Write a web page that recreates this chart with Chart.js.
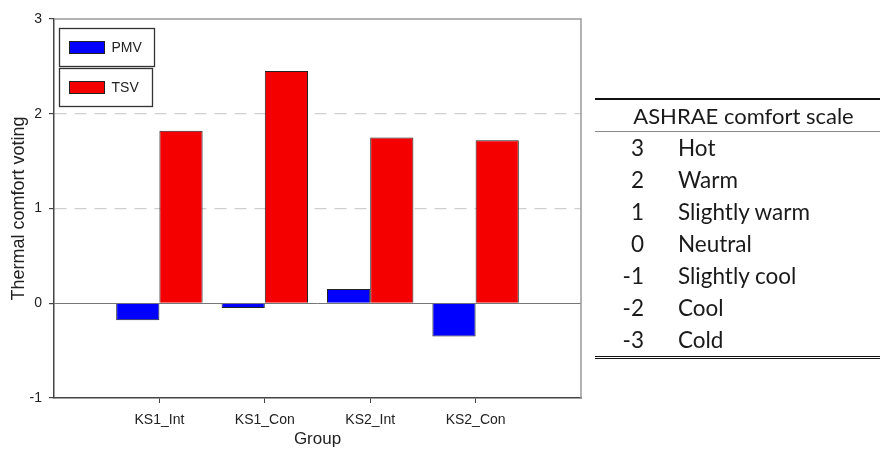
<!DOCTYPE html>
<html>
<head>
<meta charset="utf-8">
<script src="https://cdn.jsdelivr.net/npm/chart.js@4.4.0/dist/chart.umd.min.js"></script>
<style>
    body { margin: 0; background: #fff; }
    #wrap { position: relative; width: 880px; height: 450px; overflow: hidden; }
    #myChart { position: absolute; left: 0; top: 0; }
    #scaleTable {
        position: absolute; left: 595px; top: 98px; width: 285px;
        border-collapse: collapse;
        border-top: 2px solid #111; border-bottom: 3px double #111;
        font-family: Lato, "Open Sans", sans-serif; font-size: 22.5px; color: #1a1a1a;
    }
    #scaleTable th {
        font-weight: normal; font-size: 22px; height: 31px; line-height: 31px; padding: 0 0 0 12px;
        border-bottom: 1px solid #888; text-align: center;
    }
    #scaleTable td { height: 32px; line-height: 32px; padding: 0; }
    #scaleTable td.num { width: 49px; text-align: right; }
    #scaleTable td.lbl { padding-left: 34px; text-align: left; }
</style>
</head>
<body>
<div id="wrap">
    <canvas id="myChart" width="880" height="450"></canvas>
    <table id="scaleTable">
        <thead><tr><th colspan="2">ASHRAE comfort scale</th></tr></thead>
        <tbody id="scaleBody"></tbody>
    </table>
</div>
<script>
// chart data
const groups = ['KS1_Int', 'KS1_Con', 'KS2_Int', 'KS2_Con'];
const pmv = [-0.18, -0.05, 0.15, -0.35];
const tsv = [1.82, 2.45, 1.75, 1.72];
const yMin = -1;
const yMax = 3;

// ASHRAE scale table
const comfortValues = ['3', '2', '1', '0', '-1', '-2', '-3'];
const comfortLabels = ['Hot', 'Warm', 'Slightly warm', 'Neutral', 'Slightly cool', 'Cool', 'Cold'];

const tbody = document.getElementById('scaleBody');
comfortValues.forEach((v, i) => {
    const tr = document.createElement('tr');
    tr.innerHTML = '<td class="num">' + v + '</td><td class="lbl">' + comfortLabels[i] + '</td>';
    tbody.appendChild(tr);
});

// blank slots on each side so the groups sit like in the original plot
const labels = [''].concat(groups, ['']);
const pad = arr => [null].concat(arr, [null]);

const FONT = '"Liberation Sans", Arial, sans-serif';

// zero line + top/right frame
const framePlugin = {
    id: 'frame',
    beforeDatasetsDraw(chart) {
        const { ctx, chartArea: a, scales: { y } } = chart;
        const y0 = Math.round(y.getPixelForValue(0)) + 0.5;
        ctx.save();
        ctx.strokeStyle = '#777';
        ctx.lineWidth = 1;
        ctx.beginPath();
        ctx.moveTo(a.left, y0);
        ctx.lineTo(a.right, y0);
        ctx.stroke();
        ctx.restore();
    },
    afterDraw(chart) {
        const { ctx, chartArea: a } = chart;
        ctx.save();
        ctx.strokeStyle = '#999';
        ctx.lineWidth = 1.5;
        ctx.beginPath();
        ctx.moveTo(a.left, a.top);
        ctx.lineTo(a.right, a.top);
        ctx.lineTo(a.right, a.bottom);
        ctx.stroke();
        ctx.restore();
    }
};

// boxed legend entries, one box per series
const boxLegend = {
    id: 'boxLegend',
    afterDraw(chart) {
        const { ctx, chartArea: a } = chart;
        const widths = [95, 93];
        ctx.save();
        chart.data.datasets.forEach((ds, i) => {
            const x = a.left + 5.5;
            const y = a.top + 9.5 + i * 40;
            ctx.strokeStyle = '#333';
            ctx.lineWidth = 1.3;
            ctx.strokeRect(x, y, widths[i], 38);
            ctx.fillStyle = ds.backgroundColor;
            ctx.fillRect(x + 10, y + 13, 35, 12);
            ctx.strokeStyle = '#222';
            ctx.lineWidth = 1;
            ctx.strokeRect(x + 10, y + 13, 35, 12);
            ctx.fillStyle = '#222';
            ctx.font = '14px ' + FONT;
            ctx.textBaseline = 'middle';
            ctx.fillText(ds.label, x + 52, y + 19.5);
        });
        ctx.restore();
    }
};

const chart = new Chart(document.getElementById('myChart'), {
    type: 'bar',
    data: {
        labels: labels,
        datasets: [
            { label: 'PMV', data: pad(pmv), backgroundColor: 'rgb(0, 0, 255)', borderColor: '#222', borderWidth: 1 },
            { label: 'TSV', data: pad(tsv), backgroundColor: 'rgb(245, 0, 0)', borderColor: '#222', borderWidth: 1 }
        ]
    },
    options: {
        responsive: false,
        devicePixelRatio: 1,
        animation: false,
        categoryPercentage: 0.82,
        barPercentage: 1.0,
        layout: { padding: { top: 19, right: 299, left: 0, bottom: 0 } },
        plugins: {
            legend: { display: false },
            tooltip: { enabled: false }
        },
        scales: {
            x: {
                offset: false,
                afterFit: s => { s.height = 52; },
                border: { color: '#444', width: 1.5 },
                grid: {
                    offset: false,
                    drawOnChartArea: false,
                    tickLength: 5,
                    tickColor: c => (labels[c.index] ? '#444' : 'rgba(0,0,0,0)')
                },
                ticks: { color: '#222', font: { family: FONT, size: 14 }, padding: 9, maxRotation: 0, autoSkip: false },
                title: { display: true, text: 'Group', color: '#222', font: { family: FONT, size: 17 }, padding: { top: 0, bottom: 0 } }
            },
            y: {
                min: yMin,
                max: yMax,
                afterFit: s => { s.width = 54; },
                border: { color: '#444', width: 1.5, dash: [12, 8] },
                grid: {
                    color: c => (c.tick.value === 1 || c.tick.value === 2 ? '#cfcfcf' : 'rgba(0,0,0,0)'),
                    lineWidth: 1.2,
                    tickLength: 5,
                    tickColor: '#444',
                    tickBorderDash: []
                },
                ticks: { stepSize: 1, color: '#222', font: { family: FONT, size: 14 }, padding: 7 },
                title: { display: true, text: 'Thermal comfort voting', color: '#222', font: { family: FONT, size: 18 }, padding: { top: 8, bottom: 0 } }
            }
        }
    },
    plugins: [framePlugin, boxLegend]
});
</script>
</body>
</html>
